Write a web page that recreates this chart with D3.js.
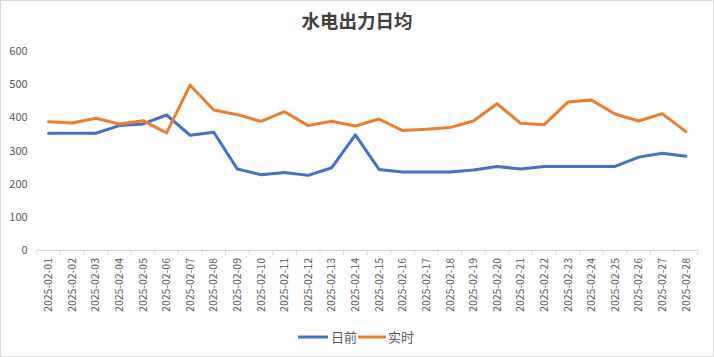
<!DOCTYPE html>
<html><head><meta charset="utf-8">
<script src="https://cdn.jsdelivr.net/npm/d3@7"></script>
<style>body{margin:0;background:#fff}svg{display:block}</style>
</head><body>
<svg id="c" width="714" height="357"></svg>
<script>
const categories = ["2025-02-01","2025-02-02","2025-02-03","2025-02-04","2025-02-05","2025-02-06","2025-02-07","2025-02-08","2025-02-09","2025-02-10","2025-02-11","2025-02-12","2025-02-13","2025-02-14","2025-02-15","2025-02-16","2025-02-17","2025-02-18","2025-02-19","2025-02-20","2025-02-21","2025-02-22","2025-02-23","2025-02-24","2025-02-25","2025-02-26","2025-02-27","2025-02-28"];
const dayAhead = [352,352,352,375,380,407,346,355,244,227,234,225,248,347,243,235,235,235,241,252,244,252,252,252,252,280,292,283];
const realTime = [387,383,397,380,390,353,497,422,408,388,417,375,388,374,395,360,364,369,389,441,382,378,446,452,410,389,411,357];
const yTicks = [0,100,200,300,400,500,600];
const seriesNames = ["日前","实时"];
const colors = ["#4472C4","#ED7D31"];

const svg = d3.select("#c");
const W = 714, H = 357;
svg.append("rect").attr("x",0.5).attr("y",0.5).attr("width",W-1).attr("height",H-1).attr("fill","#fff").attr("stroke","#d9d9d9");

const pL = 36.7, pR = 697.7, pT = 51, pB = 250;
const x = d3.scaleBand().domain(categories).range([pL, pR]);
const y = d3.scaleLinear().domain([0,600]).range([pB, pT]);

svg.append("text").attr("x",357).attr("y",28).attr("text-anchor","middle")
  .attr("font-family","'Noto Sans CJK SC',sans-serif").attr("font-size",18.5).attr("font-weight","600")
  .attr("fill","#404040").text("水电出力日均");

// y axis
const yAxis = svg.append("g").attr("transform",`translate(${pL},0)`)
  .call(d3.axisLeft(y).tickValues(yTicks).tickSize(0).tickPadding(9));
yAxis.select(".domain").remove();
yAxis.selectAll("text").attr("font-family","'Noto Sans CJK SC',sans-serif").attr("font-size",11).attr("fill","#595959");

// x axis
const xAxis = svg.append("g").attr("transform",`translate(0,${pB})`)
  .call(d3.axisBottom(x).tickSize(0));
xAxis.select(".domain").attr("stroke","#d9d9d9");
const tickPos = categories.map(c=>x(c)).concat([pR]);
xAxis.selectAll(".tk").data(tickPos).enter().append("line").attr("class","tk")
  .attr("x1",d=>d).attr("x2",d=>d).attr("y1",0).attr("y2",5).attr("stroke","#d9d9d9");
xAxis.selectAll(".tick text")
  .attr("font-family","'Noto Sans CJK SC',sans-serif").attr("font-size",10.5).attr("fill","#595959")
  .attr("transform","rotate(-90)").attr("text-anchor","end").attr("x",-8).attr("y",0).attr("dy","0.35em");

const line = d3.line().x((d,i)=>x(categories[i])+x.bandwidth()/2).y(d=>y(d));
[dayAhead, realTime].forEach((s,k)=>{
  svg.append("path").datum(s).attr("d",line).attr("fill","none")
    .attr("stroke",colors[k]).attr("stroke-width",3).attr("stroke-linejoin","round").attr("stroke-linecap","round");
});

// legend
const leg = [{x1:298,x2:328,tx:331},{x1:358,x2:386,tx:388}];
seriesNames.forEach((n,k)=>{
  svg.append("line").attr("x1",leg[k].x1).attr("x2",leg[k].x2).attr("y1",337).attr("y2",337)
    .attr("stroke",colors[k]).attr("stroke-width",3);
  svg.append("text").attr("x",leg[k].tx).attr("y",337).attr("dy","0.36em")
    .attr("font-family","'Noto Sans CJK SC',sans-serif").attr("font-size",13).attr("fill","#595959").text(n);
});
</script>
</body></html>
